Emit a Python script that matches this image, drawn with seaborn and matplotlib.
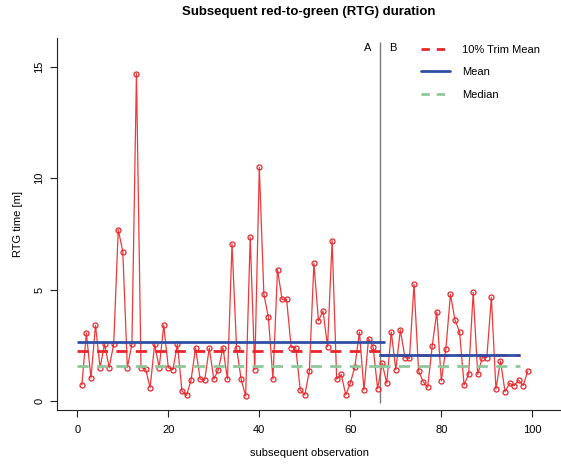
import matplotlib
matplotlib.use("Agg")
import matplotlib.pyplot as plt
import numpy as np
import pandas as pd
import seaborn as sns
from matplotlib.lines import Line2D

# RTG durations, observation 1..99
rtg = [0.72, 3.05, 1.03, 3.4, 1.5, 2.55, 1.5, 2.55, 7.7, 6.7,
       1.5, 2.55, 14.7, 1.5, 1.45, 0.6, 2.55, 1.5, 3.4, 1.5,
       1.4, 2.55, 0.45, 0.25, 0.94, 2.38, 0.98, 0.93, 2.38, 0.98,
       1.4, 2.4, 0.98, 7.05, 2.4, 0.98, 0.22, 7.35, 1.4, 10.5,
       4.8, 3.75, 0.98, 5.9, 4.56, 4.56, 2.4, 2.4, 0.49, 0.27,
       1.36, 6.18, 3.6, 4.04, 2.44, 7.2, 0.98, 1.2, 0.27, 0.8,
       1.54, 3.1, 0.49, 2.8, 2.44, 0.55, 1.7, 0.8, 3.1, 1.4,
       3.2, 1.95, 1.92, 5.24, 1.35, 0.87, 0.62, 2.47, 4.0, 0.91,
       2.33, 4.79, 3.64, 3.11, 0.72, 1.2, 4.88, 1.2, 1.95, 1.95,
       4.66, 0.54, 1.8, 0.42, 0.79, 0.69, 0.94, 0.69, 1.35]
obs = list(range(1, len(rtg) + 1))

# summary lines for phase A and phase B
phases = ["A", "B"]
seg_start = [0, 66.4]
seg_end = [67.6, 97.2]
trim_mean = [2.25, 2.07]
mean_val = [2.65, 2.07]
median_val = [1.58, 1.58]
split_x = 66.5

df = pd.DataFrame({"obs": obs, "rtg": rtg})

sns.set_style("ticks")
plt.rcParams["font.family"] = ["Liberation Sans", "DejaVu Sans"]
plt.rcParams["text.color"] = "black"
plt.rcParams["axes.labelcolor"] = "black"
plt.rcParams["xtick.color"] = "black"
plt.rcParams["ytick.color"] = "black"

red = "#E8262C"
blue = "#2F4EA6"
green = "#8EC89A"

fig = plt.figure(figsize=(5.61, 4.66), dpi=100)
ax = fig.add_axes([57 / 561, 56 / 466, 1 - 57 / 561, (410 - 38) / 466])

sns.lineplot(data=df, x="obs", y="rtg", ax=ax, color="#EE3A3A", lw=0.9,
             marker="o", markersize=3.6, markerfacecolor="none",
             markeredgecolor=red, markeredgewidth=0.9, zorder=3)

for i in range(len(phases)):
    ax.hlines(trim_mean[i], seg_start[i], seg_end[i], colors=red, lw=2,
              linestyles=(0, (4, 3)), zorder=4)
    ax.hlines(mean_val[i], seg_start[i], seg_end[i], colors=blue, lw=2, zorder=5)
    ax.hlines(median_val[i], seg_start[i], seg_end[i], colors=green, lw=2,
              linestyles=(0, (4, 3)), zorder=4)

ax.vlines(split_x, -0.08, 16.1, colors="#7a7a7a", lw=1.0, zorder=2)
ax.text(63.9, 15.85, "A", fontsize=8, ha="center", va="center")
ax.text(69.4, 15.85, "B", fontsize=8, ha="center", va="center")

handles = [Line2D([], [], color=red, lw=2, ls=(0, (3, 2.5))),
           Line2D([], [], color=blue, lw=2),
           Line2D([], [], color=green, lw=2, ls=(0, (3, 2.5)))]
ax.legend(handles, ["10% Trim Mean", "Mean", "Median"], loc="upper left",
          bbox_to_anchor=(0.722, 0.982), frameon=False, fontsize=8,
          handlelength=2.6, handletextpad=1.1, labelspacing=1.12,
          borderpad=0, borderaxespad=0)

ax.set_xlim(-4.46, 106.3)
ax.set_ylim(-0.404, 16.3)
ax.set_xticks([0, 20, 40, 60, 80, 100])
ax.set_yticks([0, 5, 10, 15])
ax.tick_params(axis="both", labelsize=8, length=5, width=0.8, color="#222222")
ax.tick_params(axis="x", pad=6)
ax.tick_params(axis="y", pad=4)
for lab in ax.get_yticklabels():
    lab.set_rotation(90)
    lab.set_va("center")
sns.despine(ax=ax)
for s in ["left", "bottom"]:
    ax.spines[s].set_linewidth(0.8)
    ax.spines[s].set_color("#222222")

ax.set_xlabel("subsequent observation", fontsize=8, labelpad=9)
ax.set_ylabel("RTG time [m]", fontsize=8, labelpad=8)
fig.suptitle("Subsequent red-to-green (RTG) duration", fontsize=9.5,
             fontweight="bold", x=309 / 561, y=1 - 12 / 466, va="center")

fig.savefig("out.png", dpi=100)
